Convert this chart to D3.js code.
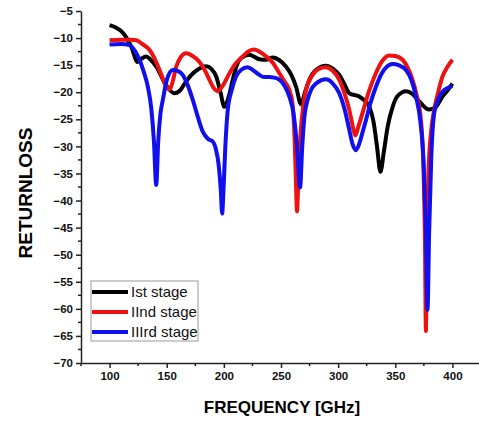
<!DOCTYPE html>
<html>
<head>
<meta charset="utf-8">
<script src="https://cdn.jsdelivr.net/npm/d3@7"></script>
<style>
body { margin: 0; background: #fff; }
text { font-family: "Liberation Sans", Arial, sans-serif; }
</style>
</head>
<body>
<div id="chart"></div>
<script>
// chart size
var width = 479, height = 421;

// tick values
var xTicks = [100, 150, 200, 250, 300, 350, 400];
var yTicks = [-5, -10, -15, -20, -25, -30, -35, -40, -45, -50, -55, -60, -65, -70];

// series names
var seriesNames = ["Ist stage", "IInd stage", "IIIrd stage"];

// [frequency, return loss]
var stage1 = [[100,-7.6],[105,-8.0],[112,-9.1],[119,-11.6],[124.5,-14.4],[128,-13.8],[132,-13.4],[136,-14],[141,-15.3],
  [149.5,-18.7],[156.8,-20.2],[161,-19.8],[167,-18],[173,-16.5],[178.7,-15.6],[184.5,-15.2],[189,-15.7],[193.3,-17.1],
  [197,-20],[200.5,-22.7],[204,-21],[207.8,-17.7],[211,-15.2],[215,-13.7],[222.4,-13.1],[231,-13.9],[237,-14],
  [242.8,-13.6],[248,-14],[254.5,-15.3],[259,-16.8],[263.2,-19],[267.5,-22.2],[271,-20],[274.8,-17.7],[281,-15.8],
  [289.4,-15.1],[295,-15.6],[301,-16.8],[305,-18.3],[309.8,-20.2],[318.5,-20.8],[323,-21.5],[327.3,-22.7],[331,-25.5],
  [334,-30],[337,-34.7],[340,-31],[343.3,-26.4],[347.7,-22.7],[352,-20.7],[359.4,-19.8],[365,-20.3],[371,-21.7],
  [379.7,-23.2],[385,-22.8],[391.3,-20.8],[396,-19.6],[400,-18.4]];

var stage2 = [[100,-10.4],[110,-10.3],[118,-10.3],[123.3,-10.4],[128,-11],[135,-12.2],[139,-13.6],[143.7,-15.9],
  [148,-18.2],[152.4,-19.5],[155,-18.2],[158.3,-15.3],[162,-13.6],[167,-12.8],[172,-13.2],[178.7,-14.4],[183,-15.8],
  [187.4,-17.7],[191,-19.2],[194.7,-19.8],[199,-18.8],[204.9,-16.5],[210,-14.8],[216.5,-13.4],[222,-12.4],[226.7,-12.1],
  [231,-12.5],[237,-13.4],[243,-14.6],[248.6,-16.5],[253,-18],[257.3,-19.6],[260,-22],[261.8,-28],[263,-36],[264,-42],
  [265.2,-36],[267,-28],[269.5,-22.5],[272,-19.5],[277.7,-16.8],[283,-15.7],[289.4,-15.4],[295,-16],[301,-17.7],
  [306,-20.5],[309.8,-23.3],[313,-26.5],[315,-28],[317.5,-26.5],[322.9,-22.7],[327,-19.8],[333,-16.5],[338,-14.4],
  [344.8,-13.2],[350,-13.3],[356.4,-14],[361,-15.5],[365.1,-17.7],[369,-20.8],[372.4,-25],[374.5,-33],[376,-48],
  [376.8,-64.1],[377.6,-48],[379,-35],[381,-28],[384,-23.3],[387.5,-20],[391.3,-17.1],[396,-15.2],[400,-14.0]];

var stage3 = [[100,-11.2],[110,-11.1],[117.5,-11.3],[122,-12.3],[126.2,-14],[130,-16.3],[133.5,-19],[136.5,-23],
  [138.8,-29],[140.8,-37.1],[142.6,-29],[144.5,-24],[146.6,-21.4],[150,-17.8],[155.3,-15.9],[160,-16.1],[164,-16.8],
  [168,-18.5],[172.8,-21.4],[177,-24.4],[181.6,-27.3],[186,-28.6],[190.3,-29.1],[193,-30.5],[195.5,-33.5],[197.3,-38],
  [198.5,-42.4],[199.7,-38],[201.3,-30],[203.4,-23.3],[207,-19.5],[210.7,-17.1],[215,-15.9],[220.9,-15.4],[226,-16],
  [231.1,-16.8],[235,-17.2],[239.9,-17.2],[244,-17.3],[248.6,-17.7],[253,-18.8],[257.3,-20.8],[261,-24],[264,-30],
  [266.7,-37.6],[268.6,-30],[270.5,-24.5],[273.3,-21.4],[276.5,-19.5],[280.7,-18.4],[285,-17.8],[289.4,-17.6],
  [295,-18.3],[301,-20.2],[305.5,-23],[309.8,-27],[312.5,-29.5],[315.6,-30.7],[318.5,-29.5],[321.5,-27.3],[324.4,-25.1],
  [328,-22.2],[333.1,-19],[338,-16.6],[342,-15.4],[347.7,-14.8],[353,-15],[359.4,-15.9],[364,-17.7],[368.1,-20.8],
  [372,-25.5],[375,-34],[376.8,-46],[378.2,-60.2],[379.6,-46],[381.5,-32],[384,-23.9],[387.5,-21.3],[391.3,-19.9],
  [396,-19.2],[400,-18.8]];

var colours = ["#000000", "#ee1111", "#1010ee"];
var allSeries = [stage1, stage2, stage3];

var svg = d3.select("#chart").append("svg")
  .attr("width", width)
  .attr("height", height);

var x = d3.scaleLinear().domain([75, 425]).range([81, 481]);
var y = d3.scaleLinear().domain([-70, -5]).range([363, 11]);

// minor ticks
var xMinor = d3.range(75, 426, 50);
var yMinor = d3.range(-67.5, -5, 5);

svg.append("g").selectAll("line").data(xMinor).enter().append("line")
  .attr("x1", function (d) { return x(d); }).attr("x2", function (d) { return x(d); })
  .attr("y1", 363).attr("y2", 366)
  .style("stroke", "#222").style("stroke-width", 1.5);

svg.append("g").selectAll("line").data(yMinor).enter().append("line")
  .attr("y1", function (d) { return y(d); }).attr("y2", function (d) { return y(d); })
  .attr("x1", 81).attr("x2", 78)
  .style("stroke", "#222").style("stroke-width", 1.5);

var xAxis = svg.append("g")
  .attr("transform", "translate(0,363)")
  .call(d3.axisBottom(x).tickValues(xTicks).tickSize(5).tickPadding(4).tickSizeOuter(0));

var yAxis = svg.append("g")
  .attr("transform", "translate(81,0)")
  .call(d3.axisLeft(y).tickValues(yTicks).tickSize(5).tickPadding(3).tickSizeOuter(0));

[xAxis, yAxis].forEach(function (a) {
  a.select(".domain").style("stroke", "#222").style("stroke-width", 1.5);
  a.selectAll(".tick line").style("stroke", "#222").style("stroke-width", 1.5);
  a.selectAll("text")
    .style("font-family", "'Liberation Sans', Arial, sans-serif")
    .style("font-size", "11.5px")
    .style("font-weight", "bold")
    .style("fill", "#111");
});

var line = d3.line()
  .x(function (d) { return x(d[0]); })
  .y(function (d) { return y(d[1]); })
  .curve(d3.curveMonotoneX);

svg.selectAll("path.series")
  .data(allSeries)
  .enter()
  .append("path")
  .attr("class", "series")
  .attr("d", line)
  .style("fill", "none")
  .style("stroke", function (d, i) { return colours[i]; })
  .style("stroke-width", 4)
  .style("stroke-linejoin", "round");

// axis titles
svg.append("text")
  .attr("x", 282).attr("y", 413)
  .attr("text-anchor", "middle")
  .style("font-size", "17px").style("font-weight", "bold")
  .text("FREQUENCY [GHz]");

svg.append("text")
  .attr("transform", "translate(32,193) rotate(-90)")
  .attr("text-anchor", "middle")
  .style("font-size", "19px").style("font-weight", "bold")
  .text("RETURNLOSS");

// legend
var legend = svg.append("g");
legend.append("rect")
  .attr("x", 91).attr("y", 281).attr("width", 107).attr("height", 60)
  .style("fill", "#fff").style("stroke", "#999").style("stroke-width", 1);

legend.selectAll("line").data(seriesNames).enter().append("line")
  .attr("x1", 92).attr("x2", 128)
  .attr("y1", function (d, i) { return 292 + i * 20; })
  .attr("y2", function (d, i) { return 292 + i * 20; })
  .style("stroke", function (d, i) { return colours[i]; })
  .style("stroke-width", 4);

legend.selectAll("text").data(seriesNames).enter().append("text")
  .attr("x", 131)
  .attr("y", function (d, i) { return 297 + i * 20; })
  .style("font-size", "15px")
  .style("fill", "#111")
  .text(function (d) { return d; });
</script>
</body>
</html>
